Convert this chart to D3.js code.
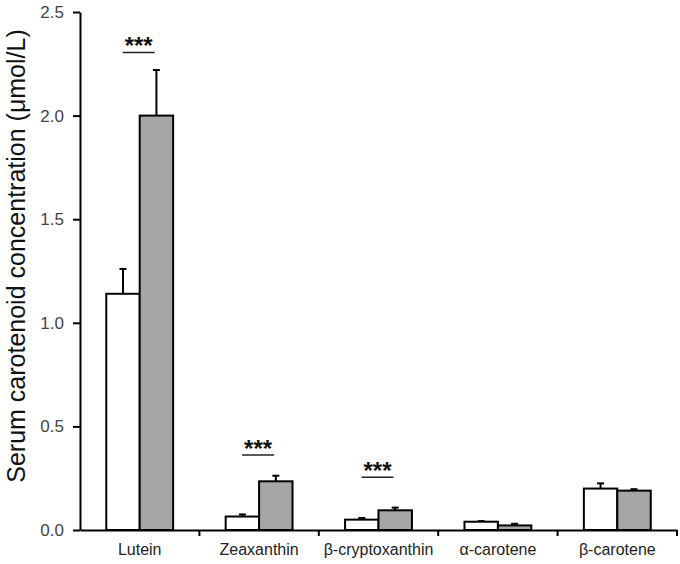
<!DOCTYPE html>
<html><head><meta charset="utf-8">
<script src="https://cdn.jsdelivr.net/npm/d3@7"></script>
<style>body{margin:0;background:#fff}svg{display:block}text{font-family:"Liberation Sans",Arial,sans-serif}</style>
</head><body>
<svg id="c" width="680" height="564"></svg>
<script>
const categories = ["Lutein","Zeaxanthin","β-cryptoxanthin","α-carotene","β-carotene"];
const group1Values = [1.14, 0.065, 0.05, 0.04, 0.20];
const group1ErrTop = [1.26, 0.075, 0.058, 0.043, 0.225];
const group2Values = [2.00, 0.235, 0.095, 0.022, 0.19];
const group2ErrTop = [2.22, 0.262, 0.108, 0.03, 0.197];
const sigLevel = [2.305, 0.362, 0.255, null, null];
const sigLabel = ["***","***","***",null,null];
const yTicks = [0, 0.5, 1.0, 1.5, 2.0, 2.5];

const svg = d3.select("#c");
const x = d3.scaleBand().domain(categories).range([80, 677]).paddingInner(0).paddingOuter(0);
const y = d3.scaleLinear().domain([0, 2.5]).range([530, 12]);
const barW = x.bandwidth() * 0.28;

// y axis
const ya = svg.append("g").attr("transform","translate(80,0)")
  .call(d3.axisLeft(y).tickValues(yTicks).tickFormat(d3.format(".1f")).tickSize(7).tickSizeOuter(0));
ya.select(".domain").attr("stroke","#000").attr("stroke-width",2);
ya.selectAll(".tick line").attr("stroke","#000").attr("stroke-width",2);
ya.selectAll(".tick text").attr("font-size",17).attr("fill","#444").attr("x",-16)
  .attr("font-family","Liberation Sans, Arial, sans-serif");

// x axis
const xa = svg.append("g").attr("transform","translate(0,530)")
  .call(d3.axisBottom(x).tickSize(0).tickSizeOuter(0));
xa.select(".domain").attr("stroke","#000").attr("stroke-width",2);
xa.selectAll(".tick text").attr("font-size",16).attr("fill","#222").attr("y",25).attr("dy",0)
  .attr("font-family","Liberation Sans, Arial, sans-serif");
// boundary ticks
xa.selectAll(".bt").data(categories).enter().append("line")
  .attr("class","bt")
  .attr("x1",d=>x(d) + x.bandwidth()).attr("x2",d=>x(d) + x.bandwidth())
  .attr("y1",0).attr("y2",6).attr("stroke","#000").attr("stroke-width",2);

const g = svg.append("g");
categories.forEach((c,i)=>{
  const cx = x(c) + x.bandwidth()/2;
  [[group1Values[i], group1ErrTop[i], cx - barW/2],[group2Values[i], group2ErrTop[i], cx + barW/2]].forEach(([v,e,ex])=>{
    g.append("line").attr("x1",ex).attr("x2",ex).attr("y1",y(v)).attr("y2",y(e)).attr("stroke","#000").attr("stroke-width",2);
    g.append("line").attr("x1",ex-3.5).attr("x2",ex+3.5).attr("y1",y(e)).attr("y2",y(e)).attr("stroke","#000").attr("stroke-width",2);
  });
  g.append("rect").attr("x",cx - barW).attr("y",y(group1Values[i])).attr("width",barW)
    .attr("height",y(0)-y(group1Values[i])).attr("fill","#fff").attr("stroke","#000").attr("stroke-width",2);
  g.append("rect").attr("x",cx).attr("y",y(group2Values[i])).attr("width",barW)
    .attr("height",y(0)-y(group2Values[i])).attr("fill","#a6a6a6").attr("stroke","#000").attr("stroke-width",2);
  if (sigLevel[i] != null) {
    const ly = y(sigLevel[i]);
    g.append("line").attr("x1",cx-17).attr("x2",cx+15).attr("y1",ly).attr("y2",ly).attr("stroke","#222").attr("stroke-width",1.5);
    g.append("text").attr("x",cx-1).attr("y",ly+2).attr("text-anchor","middle").attr("font-size",24)
      .attr("font-weight","bold").attr("fill","#111").text(sigLabel[i]);
  }
});

svg.append("text").attr("transform","translate(25,256) rotate(-90)").attr("text-anchor","middle")
  .attr("font-size",25).attr("fill","#111").text("Serum carotenoid concentration (μmol/L)");
</script>
</body></html>
